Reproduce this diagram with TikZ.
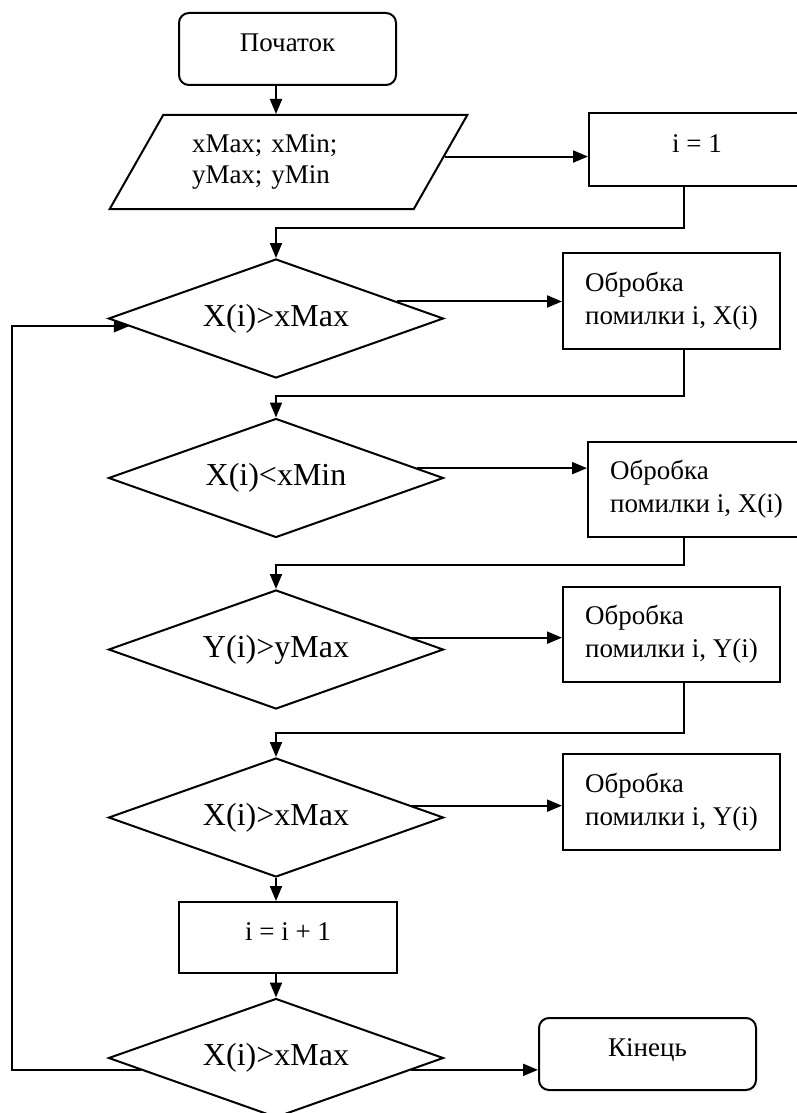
\documentclass[tikz,border=0pt]{standalone}
\usepackage{fontspec}
\setmainfont{Liberation Serif}
\usetikzlibrary{shapes.geometric,arrows.meta}

\begin{document}
\begin{tikzpicture}[x=1pt,y=-1pt,
  every node/.style={font=\fontsize{27}{31}\selectfont},
  base/.style={draw, line width=2pt, inner sep=0pt},
  term/.style={base, rectangle, rounded corners=10pt, minimum width=217pt,
    minimum height=72pt, text height=19pt, text depth=14pt},
  proc/.style={base, rectangle, minimum width=217pt, minimum height=72pt,
    text height=19pt, text depth=14pt},
  note/.style={base, rectangle, minimum width=217pt, minimum height=96pt,
    align=left, font=\fontsize{27}{33}\selectfont},
  test/.style={base, diamond, aspect=2.8, minimum width=335pt, minimum height=119pt,
    font=\fontsize{32}{38}\selectfont},
  io/.style={base, trapezium, trapezium left angle=53, trapezium right angle=127,
    trapezium stretches=true, minimum width=359pt, minimum height=94pt,
    text width=193pt, align=left},
  flow/.style={line width=2pt, -{Triangle[length=15pt,width=12pt]}}
]
\useasboundingbox (0,0) rectangle (797,1113);

% blocks
\node[term] (start) at (287.5,49) {Початок};
\node[io] (in) at (288.5,162) {xMax; xMin;\\yMax; yMin};
\node[proc, minimum height=73pt, minimum width=216pt] (i1) at (697,149.5) {i = 1};
\node[test] (d1) at (276,318.5) {X(i)>xMax};
\node[note] (p1) at (671.5,301) {Обробка\\помилки i, X(i)};
\node[test] (d2) at (276,478) {X(i)<xMin};
\node[note, minimum height=95pt] (p2) at (696.5,489.5) {Обробка\\помилки i, X(i)};
\node[test] (d3) at (276,649.5) {Y(i)>yMax};
\node[note, minimum height=95pt] (p3) at (671.5,634.5) {Обробка\\помилки i, Y(i)};
\node[test] (d4) at (276,817.5) {X(i)>xMax};
\node[note] (p4) at (671.5,802) {Обробка\\помилки i, Y(i)};
\node[proc, minimum height=71pt, minimum width=218pt] (inc) at (288,937.5) {i = i + 1};
\node[test] (d5) at (276,1058) {X(i)>xMax};
\node[term] (end) at (647.5,1054) {Кінець};

% elbow points of the return lines
\coordinate (j1) at (684,228);
\coordinate (j2) at (684,396);
\coordinate (j3) at (684,565);
\coordinate (j4) at (684,733);
\coordinate (back) at (12,700);

% connectors
\draw[flow] (start.south -| d1) -- (in.north -| d1);
\draw[flow] (in.2) -- (in.2 -| i1.west);
\draw[flow] (i1.south -| j1) -- (j1) -| (d1.north);
\draw[flow] (d1.8) -- (d1.8 -| p1.west);
\draw[flow] (p1.south -| j2) -- (j2) -| (d2.north);
\draw[flow] (d2.4) -- (d2.4 -| p2.west);
\draw[flow] (p2.south -| j3) -- (j3) -| (d3.north);
\draw[flow] (d3.5) -- (d3.5 -| p3.west);
\draw[flow] (p3.south -| j4) -- (j4) -| (d4.north);
\draw[flow] (d4.5) -- (d4.5 -| p4.west);
\draw[flow] (d4.south) -- (d4.south |- inc.north);
\draw[flow] (inc.south -| d5) -- (d5.north);
\draw[flow] (d5.-5) -- (d5.-5 -| end.west);
\draw[flow] (d5.185) -| (back) |- (d1.183);
\end{tikzpicture}
\end{document}
